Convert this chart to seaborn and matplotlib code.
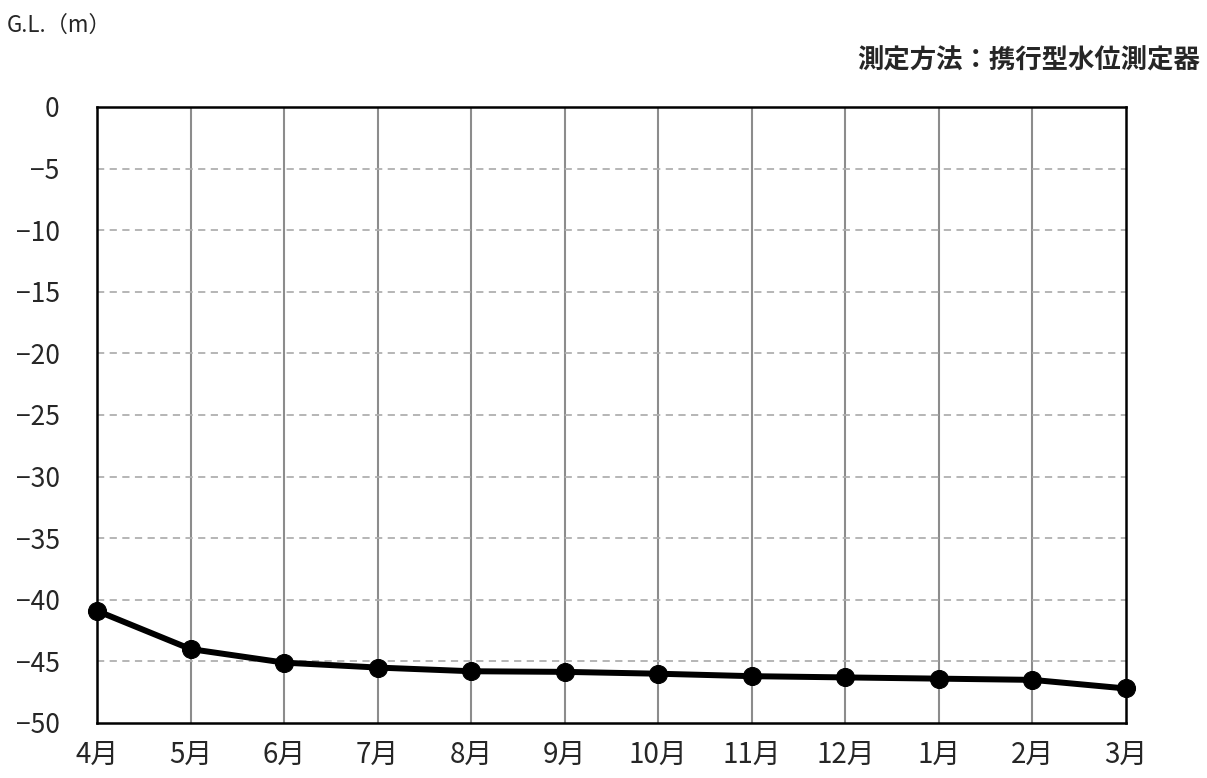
import matplotlib
matplotlib.use("Agg")
import matplotlib.pyplot as plt
import seaborn as sns
import pandas as pd

months = ["4月", "5月", "6月", "7月", "8月", "9月", "10月", "11月", "12月", "1月", "2月", "3月"]
level = [-40.9, -44.0, -45.1, -45.5, -45.8, -45.85, -46.0, -46.2, -46.3, -46.4, -46.5, -47.2]
yticks = [0, -5, -10, -15, -20, -25, -30, -35, -40, -45, -50]

sns.set_style("white")
plt.rcParams['font.family'] = ['Noto Sans CJK JP', 'DejaVu Sans']

df = pd.DataFrame({"pos": range(len(months)), "level": level})

fig = plt.figure(figsize=(12.07, 7.78), dpi=100)
ax = fig.add_axes([0.0804, 0.0707, 0.8525, 0.7918])

# grid: vertical solid, horizontal dashed
for i in range(1, len(months) - 1):
    ax.axvline(i, color="#8c8c8c", lw=1.5, zorder=1)
for y in yticks[1:-1]:
    ax.axhline(y, color="#b0b0b0", lw=1.3, ls=(0, (4, 3)), zorder=1)

sns.lineplot(data=df, x="pos", y="level", color="black", lw=4.3,
             marker="o", markersize=13, markeredgecolor="black",
             ax=ax, zorder=3, clip_on=False)

ax.set_xlim(0, len(months) - 1)
ax.set_ylim(-50, 0)
ax.set_xticks(range(len(months)))
ax.set_xticklabels(months)
ax.set_yticks(yticks)
ax.tick_params(axis="y", length=0, labelsize=19, pad=27)
ax.tick_params(axis="x", length=0, labelsize=20, pad=12)
ax.set_xlabel("")
ax.set_ylabel("")
for s in ax.spines.values():
    s.set_color("black")
    s.set_linewidth(1.8)

fig.text(0.006, 0.968, "G.L.（m）", fontsize=16, ha="left", va="center")
fig.text(0.994, 0.922, "測定方法：携行型水位測定器", fontsize=19, fontweight="bold",
         ha="right", va="center")

fig.savefig("out.png", dpi=100)
